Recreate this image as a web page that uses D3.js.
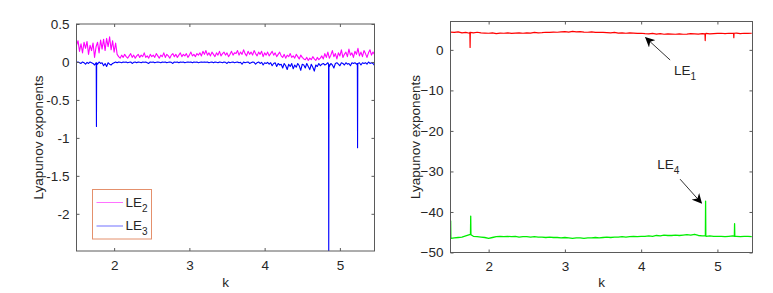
<!DOCTYPE html>
<html>
<head>
<meta charset="utf-8">
<script src="https://cdn.jsdelivr.net/npm/d3@7/dist/d3.min.js"></script>
<style>
  body { margin: 0; background: #fff; }
  svg text { font-family: "Liberation Sans", Arial, sans-serif; fill: #262626; }
</style>
</head>
<body>
<div id="chart"></div>
<script>
// k grid start/end for the two panels
var kMin = 1.5, kMax = 5.46;
var xTicks = [2, 3, 4, 5];

// LE2 (magenta) and LE3 (blue): one value every 0.02 in k, from 1.50 to 5.46
var le2 = [
  0.22,0.28,0.14,0.24,0.12,0.26,0.18,0.27,0.10,0.22,0.15,0.25,0.06,0.20,0.26,0.12,0.29,0.17,0.30,0.15,0.31,0.20,0.33,0.16,0.28,0.13,0.25,0.10,
  0.07,0.05,0.09,0.06,0.10,0.07,0.05,0.08,0.11,0.06,
  0.09,0.05,0.08,0.10,0.06,0.09,0.07,0.12,0.06,0.08,
  0.05,0.10,0.07,0.09,0.06,0.11,0.08,0.05,0.09,0.07,
  0.12,0.06,0.10,0.08,0.05,0.09,0.11,0.07,0.10,0.06,
  0.09,0.12,0.07,0.10,0.08,0.11,0.06,0.09,0.13,0.08,
  0.10,0.07,0.11,0.09,0.12,0.08,0.14,0.10,
  0.15,0.09,0.12,0.08,0.13,0.10,0.07,0.12,0.09,0.14,
  0.08,0.11,0.13,0.09,0.12,0.07,0.10,0.14,0.09,0.12,
  0.11,0.15,0.09,0.13,0.10,0.16,0.11,0.08,0.14,0.10,
  0.13,0.09,0.15,0.11,0.08,0.13,0.10,0.14,0.07,0.12,
  0.09,0.13,0.08,0.11,0.14,0.09,0.12,0.07,0.10,0.13,
  0.08,0.06,0.10,0.05,0.09,0.07,0.11,0.06,0.08,0.05,0.10,0.07,0.04,0.09,0.06,
  0.04,0.03,0.06,0.02,0.05,0.03,0.07,0.04,0.02,0.06,0.03,0.05,0.08,0.04,0.11,
  0.06,0.13,0.05,0.09,0.15,0.07,0.11,0.04,0.12,0.08,
  0.16,0.06,0.10,0.13,0.07,0.17,0.09,0.12,0.06,0.14,
  0.10,0.18,0.08,0.13,0.07,0.15,0.11,0.06,0.12,0.16,
  0.09,0.13,0.10
];
var le3 = [
  -0.005,0.00,-0.01,-0.02,0.00,-0.01,-0.03,-0.005,-0.02,0.00,-0.01,-0.02,-0.04,-0.01,-0.03,0.00,-0.02,-0.01,-0.05,-0.02,-0.06,-0.01,-0.03,-0.04,-0.02,-0.01,0.00,-0.01,
  0.00,-0.005,-0.01,0.00,-0.005,0.00,-0.01,-0.005,0.00,-0.02,
  -0.005,0.00,-0.01,0.00,-0.005,-0.01,0.00,-0.005,0.00,-0.01,
  -0.02,0.00,-0.005,0.00,-0.01,-0.005,0.00,-0.005,-0.01,0.00,
  -0.005,0.00,-0.01,-0.005,0.00,-0.005,-0.02,0.00,-0.005,0.00,
  -0.01,0.00,-0.005,0.00,-0.01,-0.005,0.00,-0.005,0.00,-0.01,
  0.00,-0.005,0.00,-0.01,-0.005,0.00,-0.005,0.00,
  -0.005,0.00,-0.01,-0.005,0.00,-0.01,0.00,-0.005,-0.01,0.00,
  -0.005,-0.01,0.00,-0.005,-0.02,0.00,-0.01,-0.005,0.00,-0.01,
  -0.005,0.00,-0.01,-0.005,-0.03,0.00,-0.01,-0.005,0.00,-0.02,
  -0.01,0.00,-0.005,-0.03,-0.01,0.00,-0.02,-0.005,-0.04,-0.01,
  -0.02,-0.005,-0.03,-0.01,-0.05,-0.02,-0.01,-0.06,-0.02,-0.04,
  -0.03,-0.08,-0.02,-0.05,-0.10,-0.03,-0.06,-0.02,-0.09,-0.04,-0.07,-0.02,-0.05,-0.11,-0.03,
  -0.04,-0.08,-0.02,-0.06,-0.10,-0.03,-0.07,-0.12,-0.04,-0.06,-0.02,-0.05,-0.03,-0.02,-0.04,
  -0.03,-0.01,-0.06,-0.02,-0.04,-0.08,-0.02,-0.01,-0.03,-0.05,
  -0.01,-0.02,-0.04,-0.01,-0.03,-0.02,-0.05,-0.01,-0.02,-0.01,
  -0.03,-0.02,-0.01,-0.04,-0.01,-0.02,-0.01,-0.03,0.00,-0.02,
  -0.01,-0.02,-0.045
];
var le3Spikes = [
  {k: 1.765, base: -0.01, peak: -0.85},
  {k: 4.852, base: -0.03, peak: -2.7},
  {k: 5.235, base: -0.02, peak: -1.13}
];

// LE1 (red) and LE4 (green): one value every 0.05 in k, from 1.50 to 5.45
var le1 = [
  4.4,4.3,4.45,4.2,4.3,4.1,4.2,4.35,4.2,4.15,
  4.1,4.2,4.0,4.15,4.1,4.2,4.05,4.15,4.2,4.1,
  4.2,4.15,4.3,4.2,4.25,4.35,4.3,4.4,4.35,4.45,
  4.5,4.4,4.55,4.45,4.5,4.4,4.35,4.45,4.3,4.35,
  4.3,4.25,4.2,4.3,4.15,4.2,4.1,4.2,4.15,4.05,
  4.1,4.0,3.95,4.05,3.9,4.0,3.85,3.95,3.9,3.85,
  3.95,3.85,3.9,4.0,3.95,3.9,4.0,4.05,3.95,4.0,
  4.05,4.1,4.0,4.1,4.05,4.15,4.0,4.1,4.05,4.1
];
var le1Spikes = [
  {k: 1.757, base: 4.3, peak: 0.6},
  {k: 4.84, base: 3.95, peak: 2.3},
  {k: 5.215, base: 4.1, peak: 3.0}
];
var le4 = [
  -46.5,-46.4,-46.3,-46.2,-45.9,-45.6,-46.0,-46.1,-46.2,-46.3,
  -46.5,-46.3,-46.1,-46.0,-46.1,-46.0,-46.1,-46.0,-46.2,-46.1,
  -46.1,-46.2,-46.1,-46.2,-46.2,-46.3,-46.2,-46.3,-46.3,-46.4,
  -46.3,-46.4,-46.5,-46.4,-46.4,-46.5,-46.4,-46.4,-46.3,-46.4,
  -46.3,-46.2,-46.3,-46.2,-46.2,-46.1,-46.2,-46.1,-46.0,-46.1,
  -46.0,-46.0,-45.9,-46.0,-45.8,-45.9,-45.7,-45.8,-45.8,-45.7,
  -45.8,-45.7,-45.6,-45.7,-45.5,-45.8,-45.9,-46.0,-45.9,-46.0,
  -46.0,-46.0,-46.1,-46.0,-45.9,-46.0,-46.1,-46.0,-46.0,-46.1
];
var le4Spikes = [
  {k: 1.502, base: -46.5, peak: -42.2},
  {k: 1.765, base: -45.6, peak: -41.0},
  {k: 4.845, base: -45.9, peak: -37.3},
  {k: 5.225, base: -46.0, peak: -42.9}
];

var leftYTicks = [0.5, 0, -0.5, -1, -1.5, -2];
var rightYTicks = [0, -10, -20, -30, -40, -50];

var axisColor = "#5a5a5a";
var fontSize = 13.5;

var svg = d3.select("#chart").append("svg")
    .attr("width", 773)
    .attr("height", 293);

// join grid values with spike points, sorted on k
function buildSeries(values, step, spikes){
    var pts = values.map(function(v, i){ return {k: kMin + i*step, v: v}; });
    spikes.forEach(function(s){
        pts.push({k: s.k - 0.003, v: s.base});
        pts.push({k: s.k, v: s.peak});
        pts.push({k: s.k + 0.003, v: s.base});
    });
    pts.sort(function(a, b){ return a.k - b.k; });
    return pts;
}

function drawPanel(id, box, yDomain, yTicks, tickFmt){
    var x = d3.scaleLinear().domain([kMin, kMax]).range([box.x0, box.x1]);
    var y = d3.scaleLinear().domain(yDomain).range([box.y1, box.y0]);
    var g = svg.append("g").attr("id", id);

    g.append("clipPath").attr("id", id + "_clip")
      .append("rect")
        .attr("x", box.x0).attr("y", box.y0)
        .attr("width", box.x1 - box.x0).attr("height", box.y1 - box.y0);

    var plot = g.append("g").attr("clip-path", "url(#" + id + "_clip)");

    // frame (box on, ticks inside on all four sides)
    var frame = g.append("g");
    frame.append("rect")
        .attr("x", box.x0).attr("y", box.y0)
        .attr("width", box.x1 - box.x0).attr("height", box.y1 - box.y0)
        .attr("fill", "none").attr("stroke", axisColor).attr("stroke-width", 1);

    var bottom = d3.axisBottom(x).tickValues(xTicks).tickSizeInner(-3).tickSizeOuter(0).tickPadding(9).tickFormat(d3.format("d"));
    var top = d3.axisTop(x).tickValues(xTicks).tickSizeInner(-3).tickSizeOuter(0).tickFormat("");
    var left = d3.axisLeft(y).tickValues(yTicks).tickSizeInner(-3).tickSizeOuter(0).tickPadding(7).tickFormat(tickFmt);
    var right = d3.axisRight(y).tickValues(yTicks).tickSizeInner(-3).tickSizeOuter(0).tickFormat("");

    [[bottom, "translate(0," + box.y1 + ")"], [top, "translate(0," + box.y0 + ")"],
     [left, "translate(" + box.x0 + ",0)"], [right, "translate(" + box.x1 + ",0)"]].forEach(function(a){
        var ax = frame.append("g").attr("transform", a[1]).call(a[0]);
        ax.select(".domain").remove();
        ax.selectAll("line").attr("stroke", axisColor);
        ax.selectAll("text").attr("font-size", fontSize).attr("fill", "#262626")
          .attr("font-family", "'Liberation Sans', Arial, sans-serif");
    });

    g.append("text")
        .attr("x", (box.x0 + box.x1)/2)
        .attr("y", 287)
        .attr("text-anchor", "middle")
        .attr("font-size", fontSize)
        .text("k");

    g.append("text")
        .attr("transform", "translate(" + box.labelX + "," + ((box.y0 + box.y1)/2) + ") rotate(-90)")
        .attr("text-anchor", "middle")
        .attr("font-size", fontSize)
        .text("Lyapunov exponents");

    return {x: x, y: y, g: g, plot: plot};
}

function drawLine(panel, pts, color, width){
    var line = d3.line()
        .x(function(d){ return panel.x(d.k); })
        .y(function(d){ return panel.y(d.v); });
    panel.plot.append("path")
        .datum(pts)
        .attr("d", line)
        .attr("fill", "none")
        .attr("stroke", color)
        .attr("stroke-width", width)
        .attr("stroke-linejoin", "round");
}

/******************* left panel *******************/
var pL = drawPanel("leftPanel", {x0: 76.5, x1: 374.5, y0: 24, y1: 251, labelX: 43},
    [-2.49, 0.5], leftYTicks, function(d){ return d === 0 ? "0" : String(d); });

drawLine(pL, buildSeries(le2, 0.02, []), "#ff00ff", 1.1);
drawLine(pL, buildSeries(le3, 0.02, le3Spikes), "#0000ff", 1.1);

// legend
var leg = pL.g.append("g");
leg.append("rect")
    .attr("x", 92.5).attr("y", 189.5).attr("width", 59).attr("height", 49.5)
    .attr("fill", "#fff").attr("stroke", "#e4906c").attr("stroke-width", 1);
var legItems = [{name: "LE", sub: "2", color: "#ff00ff"}, {name: "LE", sub: "3", color: "#0000ff"}];
legItems.forEach(function(d, i){
    var yy = 202.5 + i*23.5;
    leg.append("line")
        .attr("x1", 96.5).attr("x2", 123).attr("y1", yy).attr("y2", yy)
        .attr("stroke", d.color).attr("stroke-width", 0.8).attr("stroke-opacity", 0.7);
    var t = leg.append("text").attr("x", 125.5).attr("y", yy + 4).attr("font-size", fontSize);
    t.append("tspan").text(d.name);
    t.append("tspan").attr("dy", 5).attr("font-size", 10).text(d.sub);
});

/******************* right panel *******************/
var pR = drawPanel("rightPanel", {x0: 450.5, x1: 752.5, y0: 21.5, y1: 252.5, labelX: 420},
    [-50, 7], rightYTicks, d3.format("d"));

drawLine(pR, buildSeries(le1, 0.05, le1Spikes), "#ff0000", 1.2);
drawLine(pR, buildSeries(le4, 0.05, le4Spikes), "#00ee00", 1.3);

// annotations with arrows
var defs = svg.append("defs");
defs.append("marker")
    .attr("id", "arrowHead")
    .attr("viewBox", "0 0 10 10")
    .attr("refX", 9).attr("refY", 5)
    .attr("markerWidth", 10).attr("markerHeight", 10)
    .attr("markerUnits", "userSpaceOnUse")
    .attr("orient", "auto")
  .append("path")
    .attr("d", "M0,0 L10,5 L0,10 L3,5 Z")
    .attr("fill", "#000");

var notes = [
  {from: [4.38, -2.5], to: [4.06, 3.0], text: [4.43, -6.2], name: "LE", sub: "1"},
  {from: [4.51, -31.9], to: [4.79, -37.8], text: [4.21, -29.5], name: "LE", sub: "4"}
];
notes.forEach(function(n){
    pR.g.append("line")
        .attr("x1", pR.x(n.from[0])).attr("y1", pR.y(n.from[1]))
        .attr("x2", pR.x(n.to[0])).attr("y2", pR.y(n.to[1]))
        .attr("stroke", "#000").attr("stroke-width", 0.8)
        .attr("marker-end", "url(#arrowHead)");
    var t = pR.g.append("text")
        .attr("x", pR.x(n.text[0])).attr("y", pR.y(n.text[1]))
        .attr("font-size", fontSize);
    t.append("tspan").text(n.name);
    t.append("tspan").attr("dy", 5).attr("font-size", 10).text(n.sub);
});
</script>
</body>
</html>
